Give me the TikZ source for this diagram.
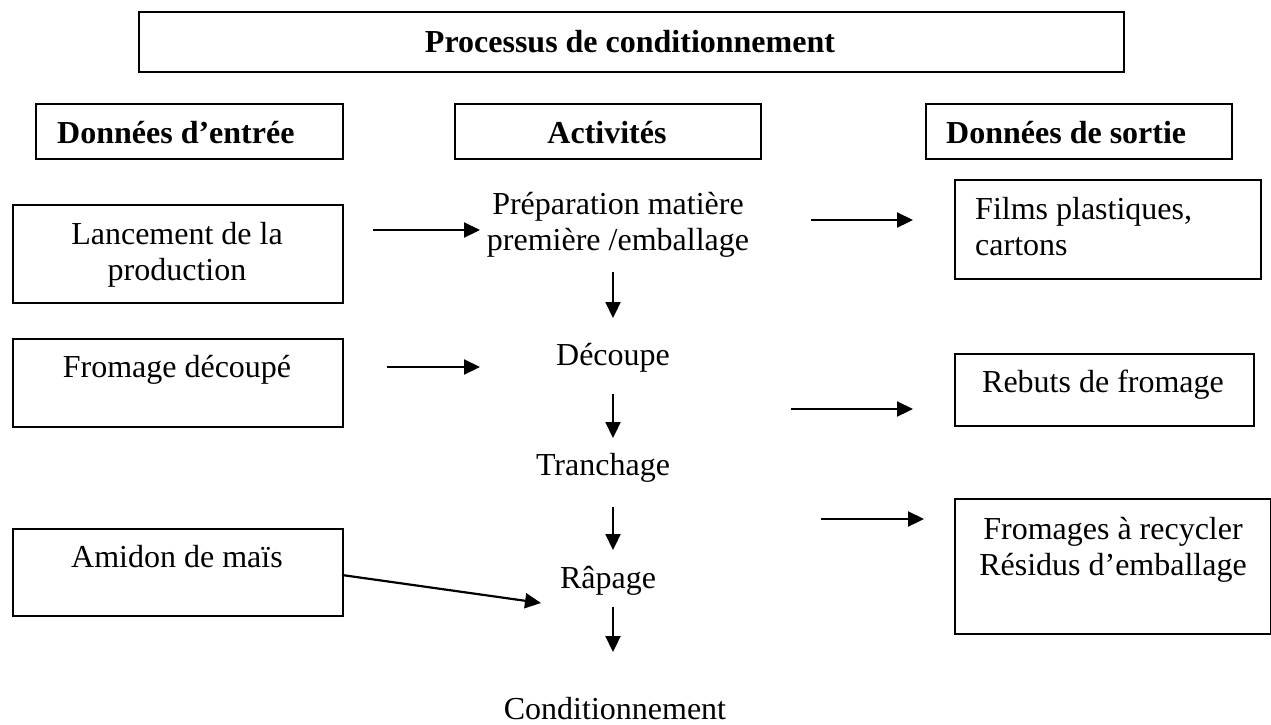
\documentclass[tikz,border=0pt]{standalone}
\usepackage{fontspec}
\setmainfont{Liberation Serif}
\usetikzlibrary{arrows.meta}
\begin{document}
\begin{tikzpicture}[x=1pt,y=-1pt,
  box/.style={draw, line width=1.5pt, inner sep=0pt, anchor=north west},
  txt/.style={inner sep=0pt, anchor=base, align=center,
    font=\fontsize{32}{36}\selectfont},
  head/.style={txt, font=\fontsize{32}{36}\selectfont\bfseries},
  flow/.style={line width=2.2pt, -{Triangle[length=16pt,width=15pt]}}]
\useasboundingbox[fill=white] (0,0) rectangle (1271,724);

% frames
\node[box, line width=2.2pt, minimum width=985, minimum height=60] (titlebox) at (138,11) {};
\node[box, minimum width=307, minimum height=55] (inbox) at (35,103) {};
\node[box, minimum width=306, minimum height=55] (actbox) at (454,103) {};
\node[box, minimum width=306, minimum height=55] (outbox) at (925,103) {};

\node[box, minimum width=330, minimum height=98] (lancebox) at (12,204) {};
\node[box, minimum width=330, minimum height=88] (fromagebox) at (12,338) {};
\node[box, minimum width=330, minimum height=87] (amidonbox) at (12,528) {};

\node[box, minimum width=306, minimum height=99] (filmsbox) at (954,179) {};
\node[box, minimum width=299, minimum height=72] (rebutsbox) at (954,353) {};
\node[box, minimum width=316, minimum height=135] (recycbox) at (954,498) {};

% headings
\node[head] (title) at (630,52) {Processus de conditionnement};
\node[head, anchor=base west] (inhead) at (57,143) {Données d’entrée};
\node[head] (acthead) at (607,143) {Activités};
\node[head, anchor=base west] (outhead) at (946,143) {Données de sortie};

% inputs (multi-line texts are placed by their last baseline)
\node[txt] (lance) at (177,280) {Lancement de la\\production};
\node[txt] (fromage) at (177,377) {Fromage découpé};
\node[txt] (amidon) at (177,567) {Amidon de maïs};

% activities
\node[txt] (prep) at (618,250) {Préparation matière\\première /emballage};
\node[txt] (decoupe) at (613,365) {Découpe};
\node[txt] (tranchage) at (603,475) {Tranchage};
\node[txt] (rapage) at (608,588) {Râpage};
\node[txt] (cond) at (615,719) {Conditionnement};

% outputs
\node[txt, anchor=base west, align=left] (films) at (975,255) {Films plastiques,\\cartons};
\node[txt] (rebuts) at (1103,392) {Rebuts de fromage};
\node[txt] (recyc) at (1113,575) {Fromages à recycler\\Résidus d’emballage};

% arrow ends
\coordinate (i1a) at (373,230); \coordinate (i1b) at (480,230);
\coordinate (i2a) at (387,367); \coordinate (i2b) at (480,367);
\coordinate (i3a) at (342,575); \coordinate (i3b) at (541,603);
\coordinate (d1a) at (613,272); \coordinate (d1b) at (613,318);
\coordinate (d2a) at (613,394); \coordinate (d2b) at (613,438);
\coordinate (d3a) at (613,507); \coordinate (d3b) at (613,550);
\coordinate (d4a) at (613,607); \coordinate (d4b) at (613,652);
\coordinate (o1a) at (811,220); \coordinate (o1b) at (913,220);
\coordinate (o2a) at (791,409); \coordinate (o2b) at (913,409);
\coordinate (o3a) at (821,519); \coordinate (o3b) at (924,519);

\foreach \a/\b in {i1a/i1b, i2a/i2b, i3a/i3b, d1a/d1b, d2a/d2b, d3a/d3b, d4a/d4b, o1a/o1b, o2a/o2b, o3a/o3b}
  \draw[flow] (\a) -- (\b);
\end{tikzpicture}
\end{document}
